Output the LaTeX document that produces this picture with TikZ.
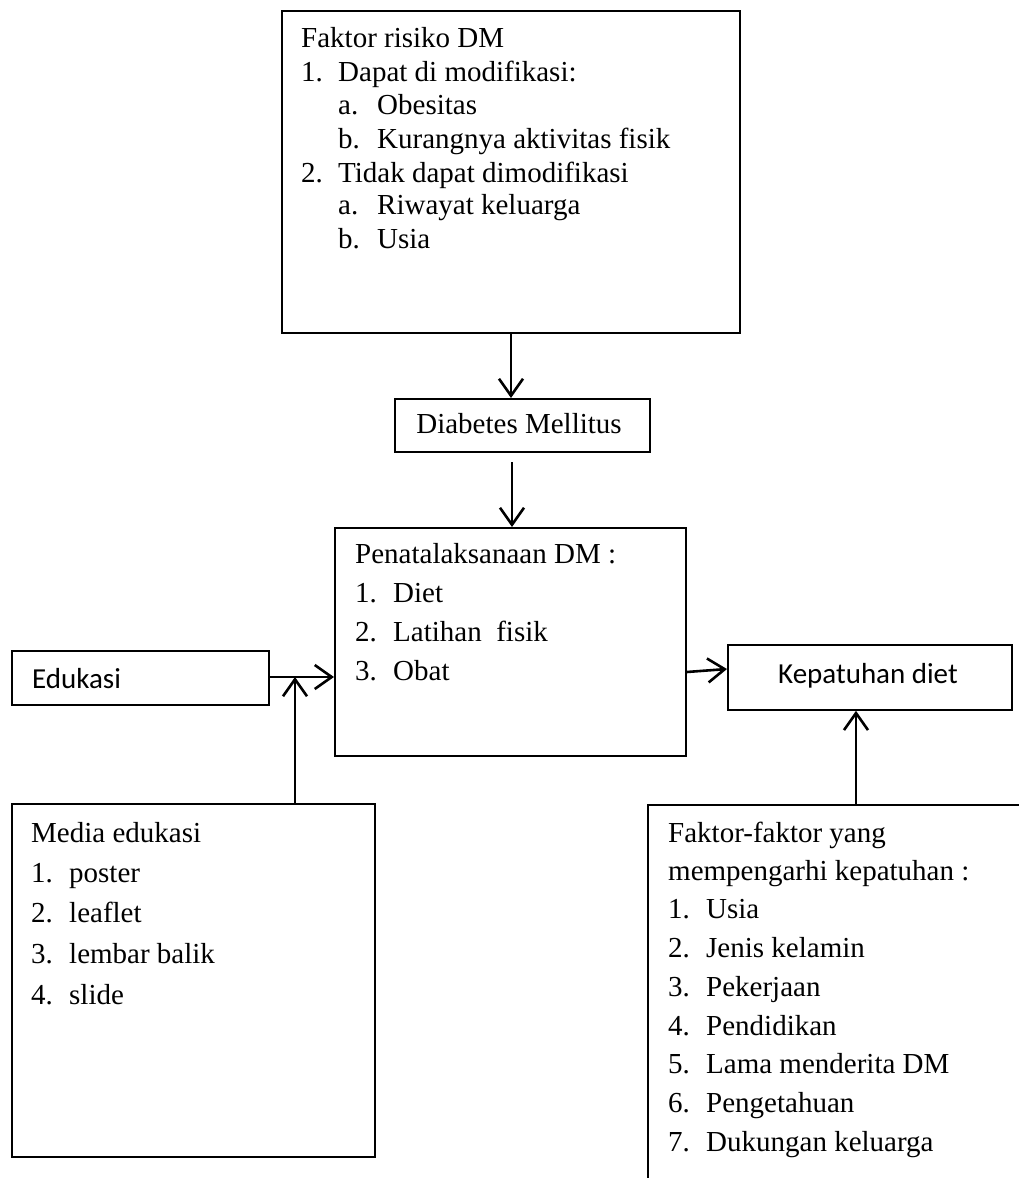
\documentclass[tikz,border=0pt]{standalone}
\usepackage{fontspec}
\setmainfont{Liberation Serif}
\newfontfamily\calibri{Carlito}
\usetikzlibrary{arrows.meta}
\begin{document}
\begin{tikzpicture}[x=1pt,y=-1pt,
  font=\fontsize{29}{34}\selectfont,
  box/.style={draw=black,line width=1.8pt,rectangle,inner sep=0pt,anchor=north west},
  txt/.style={anchor=base west,inner sep=0pt},
  conn/.style={line width=2.6pt,-{Straight Barb[length=17pt,width=24pt,line width=2.6pt]}}]
\useasboundingbox (0,0) rectangle (1019,1178);
\clip (0,0) rectangle (1019,1178);
% boxes
\node[box,minimum width=458pt,minimum height=322pt] (risk) at (281,10) {};
\node[box,minimum width=255pt,minimum height=53pt] (dm) at (394,398) {};
\node[box,minimum width=351pt,minimum height=228pt] (pen) at (334,527) {};
\node[box,minimum width=257pt,minimum height=54pt] (edu) at (11,650) {};
\node[box,minimum width=363pt,minimum height=353pt] (media) at (11,803) {};
\node[box,minimum width=284pt,minimum height=65pt] (kep) at (727,644) {};
\node[box,minimum width=420pt,minimum height=420pt] (fak) at (647,804) {};
% texts: risk
\node[txt] (r0) at (301,47) {Faktor risiko DM};
\node[txt] (r1n) at (301,81) {1.};
\node[txt] (r1) at (338,81) {Dapat di modifikasi:};
\node[txt] (r1an) at (338,114) {a.};
\node[txt] (r1a) at (377,114) {Obesitas};
\node[txt] (r1bn) at (338,148) {b.};
\node[txt] (r1b) at (377,148) {Kurangnya aktivitas fisik};
\node[txt] (r2n) at (301,182) {2.};
\node[txt] (r2) at (338,182) {Tidak dapat dimodifikasi};
\node[txt] (r2an) at (338,214) {a.};
\node[txt] (r2a) at (377,214) {Riwayat keluarga};
\node[txt] (r2bn) at (338,248) {b.};
\node[txt] (r2b) at (377,248) {Usia};
% dm
\node[anchor=base,inner sep=0pt] (dmt) at (519,433) {Diabetes Mellitus};
% pen
\node[txt] (p0) at (355,563) {Penatalaksanaan DM :};
\node[txt] (p1n) at (355,602) {1.};
\node[txt] (p1) at (393,602) {Diet};
\node[txt] (p2n) at (355,641) {2.};
\node[txt] (p2) at (393,641) {Latihan\ \ fisik};
\node[txt] (p3n) at (355,680) {3.};
\node[txt] (p3) at (393,680) {Obat};
% edu
\node[txt,font=\calibri\fontsize{29}{34}\selectfont] (edt) at (32,688) {Edukasi};
% media
\node[txt] (m0) at (31,842) {Media edukasi};
\node[txt] (m1n) at (31,882) {1.};
\node[txt] (m1) at (69,882) {poster};
\node[txt] (m2n) at (31,922) {2.};
\node[txt] (m2) at (69,922) {leaflet};
\node[txt] (m3n) at (31,963) {3.};
\node[txt] (m3) at (69,963) {lembar balik};
\node[txt] (m4n) at (31,1004) {4.};
\node[txt] (m4) at (69,1004) {slide};
% kep
\node[anchor=base,inner sep=0pt,font=\calibri\fontsize{29}{34}\selectfont] (kept) at (868,683) {Kepatuhan diet};
% fak
\node[txt] (f0) at (668,842) {Faktor-faktor yang};
\node[txt] (f00) at (668,880) {mempengarhi kepatuhan :};
\node[txt] (f1n) at (668,918) {1.};
\node[txt] (f1) at (706,918) {Usia};
\node[txt] (f2n) at (668,957) {2.};
\node[txt] (f2) at (706,957) {Jenis kelamin};
\node[txt] (f3n) at (668,996) {3.};
\node[txt] (f3) at (706,996) {Pekerjaan};
\node[txt] (f4n) at (668,1035) {4.};
\node[txt] (f4) at (706,1035) {Pendidikan};
\node[txt] (f5n) at (668,1073) {5.};
\node[txt] (f5) at (706,1073) {Lama menderita DM};
\node[txt] (f6n) at (668,1112) {6.};
\node[txt] (f6) at (706,1112) {Pengetahuan};
\node[txt] (f7n) at (668,1151) {7.};
\node[txt] (f7) at (706,1151) {Dukungan keluarga};
% connectors
\coordinate (dmgap) at (512,462);
\coordinate (join) at (295,677);
\draw[conn] (risk.south -| 511,0) -- (dm.north -| 511,0);
\draw[conn] (dmgap) -- (pen.north -| dmgap);
\draw[conn] (edu.east |- join) -- (pen.west |- join);
\draw[conn] (media.north -| join) -- (join);
\draw[conn] (pen.east |- 0,672) -- (kep.west |- 0,669);
\draw[conn] (fak.north -| 856,0) -- (kep.south -| 856,0);
\end{tikzpicture}
\end{document}
